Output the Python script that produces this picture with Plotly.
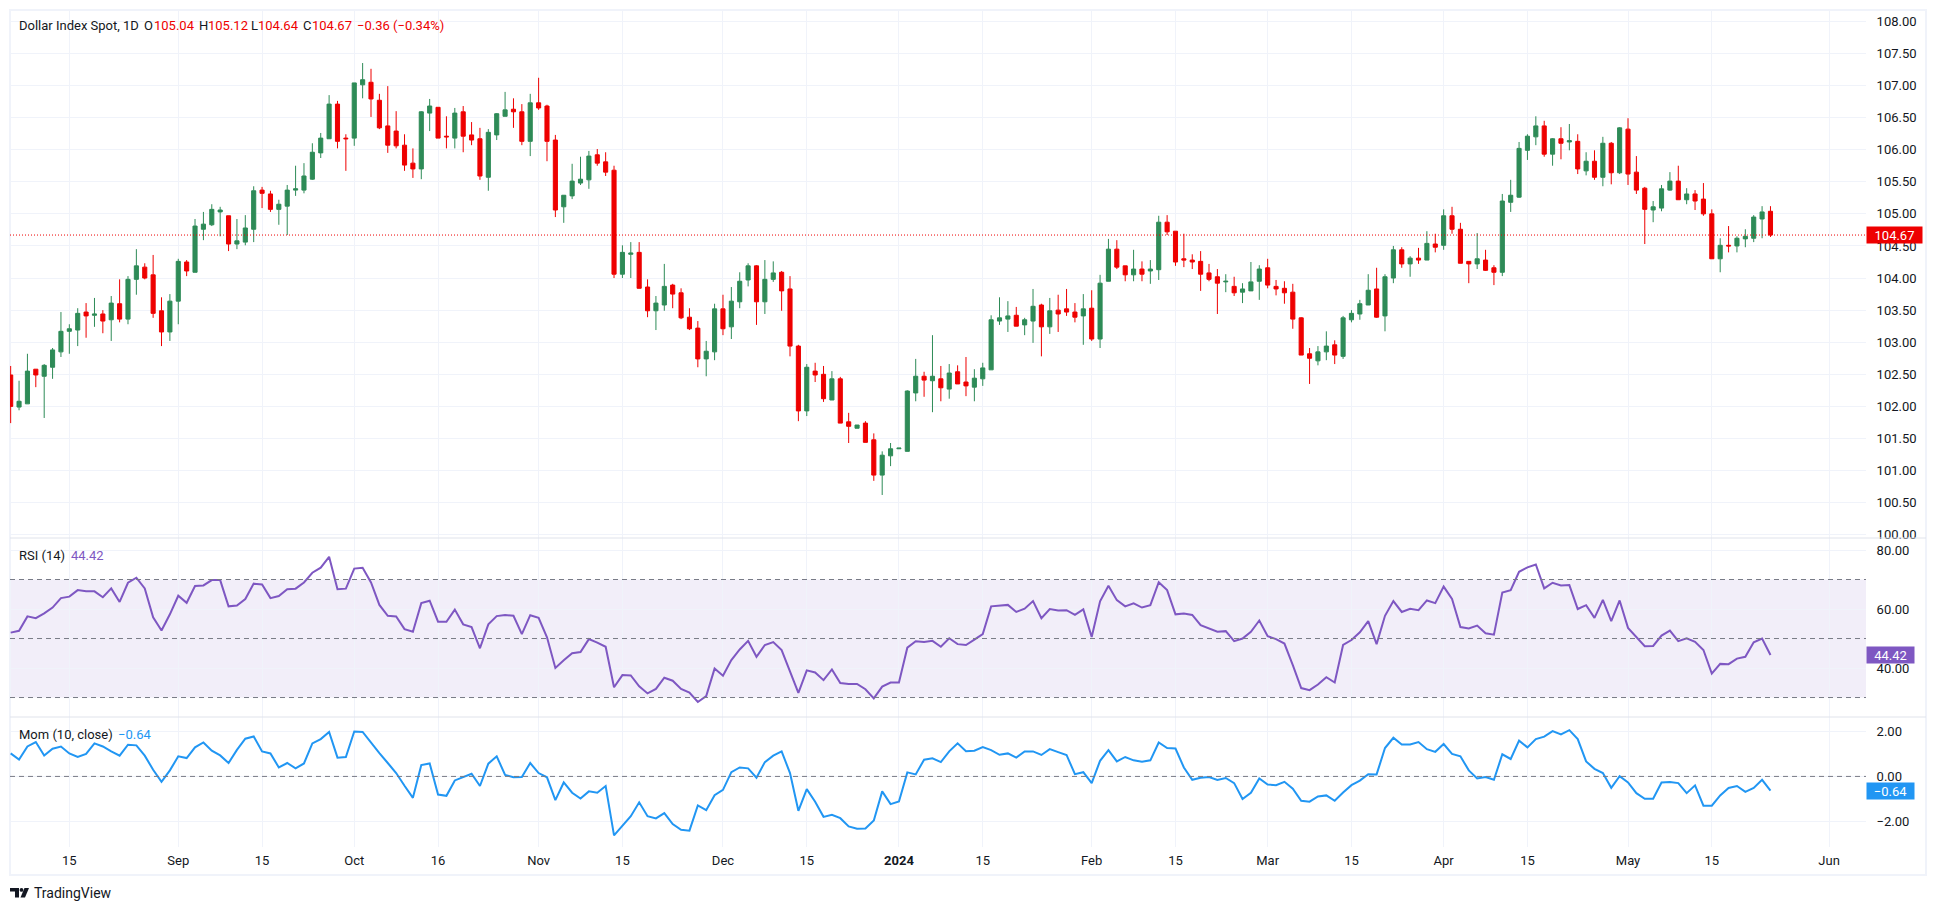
import numpy as np
import plotly.graph_objects as go
from plotly.subplots import make_subplots

FIRST_DAY = "2023-08-04"
N_BARS = 211

opens = [
    102.49, 101.99, 102.04, 102.58, 102.47, 102.61, 102.85, 103.17, 103.19, 103.47,
    103.42, 103.44, 103.35, 103.60, 103.36, 103.98, 104.17, 104.05, 103.49, 103.16,
    103.64, 104.25, 104.09, 104.76, 104.83, 105.03, 104.97, 104.53, 104.56, 104.76,
    105.37, 105.31, 105.07, 105.12, 105.37, 105.37, 105.54, 105.95, 106.17, 106.71,
    106.18, 106.18, 107.01, 107.05, 106.77, 106.37, 106.29, 106.07, 105.79, 105.70,
    106.57, 106.66, 106.21, 106.18, 106.59, 106.23, 106.17, 105.57, 106.23, 106.52,
    106.63, 106.59, 106.13, 106.73, 106.68, 106.15, 105.11, 105.28, 105.48, 105.53,
    105.92, 105.81, 105.68, 104.06, 104.37, 104.40, 103.86, 103.49, 103.58, 103.89,
    103.77, 103.39, 103.22, 102.74, 102.85, 103.52, 103.24, 103.63, 103.97, 104.19,
    103.63, 103.98, 104.09, 103.83, 102.94, 101.93, 102.55, 102.50, 102.10, 102.43,
    101.76, 101.66, 101.74, 101.48, 100.93, 101.23, 101.34, 101.30, 102.21, 102.47,
    102.40, 102.43, 102.27, 102.54, 102.38, 102.30, 102.43, 102.57, 103.33, 103.36,
    103.42, 103.27, 103.33, 103.58, 103.24, 103.50, 103.52, 103.47, 103.41, 103.53,
    103.05, 103.95, 104.45, 104.19, 104.05, 104.14, 104.11, 104.13, 104.87, 104.73,
    104.30, 104.28, 104.26, 104.08, 104.02, 103.94, 103.87, 103.78, 103.80, 103.95,
    104.16, 103.87, 103.84, 103.78, 103.38, 102.82, 102.71, 102.85, 102.96, 102.78,
    103.35, 103.44, 103.58, 103.83, 103.41, 104.00, 104.44, 104.22, 104.31, 104.28,
    104.53, 104.51, 104.97, 104.76, 104.26, 104.22, 104.28, 104.16, 104.09, 105.18,
    105.26, 105.99, 106.20, 106.37, 105.93, 106.17, 106.12, 106.13, 105.67, 105.82,
    105.57, 106.10, 105.64, 106.32, 105.65, 105.40, 105.06, 105.09, 105.37, 105.51,
    105.22, 105.31, 105.23, 105.00, 104.30, 104.51, 104.50, 104.61, 104.62, 104.92, 105.04,
]
highs = [
    102.63, 102.40, 102.82, 102.58, 102.66, 102.91, 103.47, 103.28, 103.53, 103.61,
    103.69, 103.50, 103.72, 103.98, 104.03, 104.45, 104.23, 104.36, 103.70, 103.75,
    104.30, 104.28, 104.92, 105.03, 105.15, 105.11, 104.97, 104.92, 104.98, 105.43,
    105.42, 105.36, 105.22, 105.45, 105.75, 105.79, 106.10, 106.26, 106.85, 106.76,
    106.24, 107.04, 107.35, 107.26, 106.87, 106.99, 106.60, 106.24, 106.02, 106.60,
    106.79, 106.66, 106.52, 106.65, 106.68, 106.43, 106.34, 106.32, 106.57, 106.90,
    106.80, 106.71, 106.87, 107.12, 106.70, 106.23, 105.29, 105.78, 105.89, 105.98,
    106.01, 105.96, 105.75, 104.51, 104.56, 104.56, 103.98, 103.72, 104.22, 103.91,
    103.84, 103.53, 103.33, 103.02, 103.60, 103.74, 103.86, 104.09, 104.23, 104.20,
    104.28, 104.26, 104.11, 104.03, 102.96, 102.66, 102.68, 102.63, 102.55, 102.46,
    101.90, 101.71, 101.77, 101.58, 101.30, 101.43, 101.35, 102.25, 102.74, 102.54,
    103.11, 102.63, 102.66, 102.64, 102.77, 102.58, 102.68, 103.42, 103.70, 103.64,
    103.55, 103.38, 103.83, 103.60, 103.69, 103.74, 103.83, 103.61, 103.75, 103.81,
    104.05, 104.61, 104.59, 104.19, 104.44, 104.26, 104.28, 104.97, 104.98, 104.73,
    104.69, 104.37, 104.42, 104.22, 104.14, 104.06, 104.02, 103.92, 104.25, 104.20,
    104.30, 103.97, 103.95, 103.91, 103.39, 102.91, 102.94, 103.17, 103.03, 103.41,
    103.50, 103.66, 104.06, 104.16, 104.06, 104.50, 104.48, 104.34, 104.47, 104.73,
    104.69, 105.07, 105.11, 104.86, 104.26, 104.70, 104.44, 104.20, 105.31, 105.53,
    106.12, 106.24, 106.52, 106.45, 106.18, 106.35, 106.40, 106.24, 105.96, 105.99,
    106.20, 106.12, 106.35, 106.49, 105.90, 105.42, 105.20, 105.45, 105.65, 105.75,
    105.40, 105.37, 105.48, 105.07, 104.62, 104.81, 104.65, 104.76, 104.98, 105.12, 105.12,
]
lows = [
    101.74, 101.94, 102.04, 102.30, 101.82, 102.43, 102.77, 102.82, 102.94, 103.07,
    103.24, 103.14, 103.02, 103.31, 103.28, 103.74, 103.98, 103.38, 102.94, 103.02,
    103.28, 104.03, 104.09, 104.59, 104.81, 104.65, 104.42, 104.45, 104.51, 104.56,
    105.09, 105.03, 104.83, 104.67, 105.28, 105.32, 105.53, 105.87, 106.17, 106.02,
    105.67, 106.06, 106.80, 106.51, 106.32, 105.95, 106.02, 105.67, 105.56, 105.54,
    106.29, 106.18, 106.02, 106.02, 105.96, 106.07, 105.53, 105.36, 106.15, 106.52,
    106.34, 106.07, 105.90, 106.62, 105.82, 104.95, 104.86, 105.23, 105.45, 105.39,
    105.75, 105.59, 104.00, 104.00, 104.00, 103.84, 103.39, 103.19, 103.49, 103.53,
    103.36, 103.19, 102.61, 102.47, 102.72, 103.11, 103.05, 103.53, 103.87, 103.27,
    103.44, 103.94, 103.49, 102.78, 101.77, 101.85, 102.38, 102.07, 102.10, 101.74,
    101.43, 101.66, 101.44, 100.84, 100.62, 101.07, 101.34, 101.30, 102.08, 102.15,
    101.91, 102.08, 102.12, 102.35, 102.16, 102.08, 102.32, 102.57, 103.27, 103.16,
    103.25, 103.11, 102.99, 102.78, 103.13, 103.16, 103.41, 103.31, 102.96, 103.02,
    102.91, 103.95, 104.14, 103.95, 103.95, 103.95, 103.91, 103.97, 104.67, 104.19,
    104.17, 104.14, 103.80, 103.95, 103.44, 103.78, 103.72, 103.61, 103.80, 103.66,
    103.84, 103.73, 103.60, 103.21, 102.80, 102.35, 102.64, 102.72, 102.66, 102.74,
    103.31, 103.35, 103.58, 103.38, 103.17, 103.92, 104.16, 104.02, 104.22, 104.28,
    104.40, 104.44, 104.69, 104.23, 103.92, 104.14, 104.11, 103.89, 104.03, 105.03,
    105.25, 105.84, 106.07, 105.89, 105.75, 105.85, 105.99, 105.62, 105.60, 105.53,
    105.43, 105.46, 105.62, 105.45, 105.31, 104.53, 104.87, 105.04, 105.36, 105.22,
    105.15, 105.06, 104.97, 104.30, 104.09, 104.40, 104.40, 104.48, 104.56, 104.62, 104.64,
]
closes = [
    102.00, 102.08, 102.55, 102.49, 102.64, 102.88, 103.17, 103.21, 103.45, 103.41,
    103.44, 103.33, 103.61, 103.36, 103.98, 104.19, 104.00, 103.45, 103.16, 103.64,
    104.26, 104.11, 104.81, 104.84, 105.07, 105.06, 104.53, 104.58, 104.78, 105.36,
    105.32, 105.07, 105.15, 105.37, 105.39, 105.59, 105.96, 106.18, 106.71, 106.13,
    106.17, 107.04, 107.09, 106.79, 106.34, 106.07, 106.06, 105.76, 105.70, 106.59,
    106.68, 106.18, 106.20, 106.57, 106.21, 106.15, 105.59, 106.27, 106.56, 106.62,
    106.59, 106.13, 106.73, 106.65, 106.13, 105.06, 105.29, 105.51, 105.54, 105.90,
    105.79, 105.65, 104.06, 104.40, 104.39, 103.84, 103.49, 103.61, 103.87, 103.75,
    103.38, 103.21, 102.74, 102.86, 103.52, 103.21, 103.64, 103.95, 104.19, 103.63,
    103.98, 104.08, 103.80, 102.94, 101.93, 102.61, 102.49, 102.12, 102.43, 101.74,
    101.69, 101.71, 101.44, 100.93, 101.24, 101.34, 101.35, 102.24, 102.47, 102.41,
    102.47, 102.29, 102.52, 102.35, 102.32, 102.44, 102.60, 103.35, 103.38, 103.41,
    103.25, 103.35, 103.56, 103.24, 103.49, 103.44, 103.47, 103.39, 103.52, 103.05,
    103.92, 104.45, 104.17, 104.05, 104.14, 104.06, 104.14, 104.87, 104.72, 104.25,
    104.28, 104.25, 104.06, 103.98, 103.92, 103.95, 103.77, 103.83, 103.94, 104.14,
    103.89, 103.83, 103.77, 103.36, 102.80, 102.75, 102.85, 102.94, 102.80, 103.38,
    103.45, 103.60, 103.81, 103.39, 104.02, 104.44, 104.22, 104.31, 104.28, 104.54,
    104.48, 104.97, 104.76, 104.23, 104.22, 104.30, 104.12, 104.09, 105.20, 105.29,
    106.02, 106.21, 106.37, 105.93, 106.17, 106.10, 106.14, 105.70, 105.82, 105.57,
    106.10, 105.64, 106.34, 105.62, 105.37, 105.07, 105.11, 105.39, 105.51, 105.22,
    105.31, 105.20, 105.00, 104.30, 104.51, 104.50, 104.62, 104.65, 104.95, 105.03, 104.67,
]
rsi = [
    52.0, 52.6, 57.5, 56.9, 58.5, 60.5, 63.7, 64.2, 66.4, 66.0,
    66.0, 64.0, 67.0, 62.4, 68.9, 70.6, 67.0, 57.2, 52.7, 58.2,
    64.5, 62.1, 67.8, 68.0, 69.8, 69.8, 60.9, 61.2, 63.4, 68.6,
    68.3, 63.7, 64.4, 66.7, 66.9, 69.0, 72.3, 74.0, 77.7, 66.7,
    66.9, 73.7, 74.0, 69.0, 61.4, 57.7, 57.5, 53.2, 52.3, 62.0,
    62.8, 55.7, 55.7, 59.8, 54.8, 53.9, 46.7, 54.8, 57.6, 58.0,
    57.7, 51.5, 57.9, 57.0, 50.4, 40.0, 42.6, 45.0, 45.4, 49.8,
    48.6, 47.2, 33.5, 37.6, 37.5, 33.8, 31.4, 32.9, 36.7, 35.7,
    32.9, 31.7, 28.5, 30.5, 39.8, 37.4, 42.7, 46.3, 49.2, 43.8,
    47.8, 48.8, 46.1, 38.7, 31.6, 39.2, 38.5, 35.9, 39.5, 34.9,
    34.6, 34.6, 32.8, 29.7, 33.7, 35.1, 35.1, 46.9, 49.1, 48.8,
    49.2, 47.2, 50.1, 48.1, 47.8, 49.6, 51.5, 60.9, 61.2, 61.4,
    59.0, 60.1, 62.7, 56.9, 60.0, 59.5, 59.6, 58.0, 59.9, 50.5,
    62.6, 67.9, 63.0, 60.9, 61.9, 60.5, 61.3, 69.1, 66.4, 58.2,
    58.5, 58.0, 54.5, 53.4, 52.3, 52.5, 49.1, 50.0, 52.3, 56.1,
    50.8, 49.8, 48.3, 41.0, 33.2, 32.5, 34.4, 36.9, 35.1, 47.8,
    49.5, 52.1, 55.9, 48.1, 57.7, 62.7, 59.0, 60.1, 59.6, 62.9,
    62.0, 67.6, 63.4, 53.9, 53.4, 54.4, 51.8, 51.3, 65.6, 66.4,
    72.6, 74.1, 75.1, 67.0, 68.9, 68.0, 68.1, 60.0, 61.3, 57.0,
    63.1, 55.9, 62.9, 53.6, 50.6, 47.4, 47.5, 51.0, 52.7, 49.1,
    50.1, 48.9, 46.1, 38.1, 41.4, 41.3, 43.2, 43.8, 48.7, 50.0, 44.42,
]
momentum = [
    1.03, 0.75, 1.34, 1.54, 0.94, 1.24, 1.34, 1.03, 0.87, 1.01,
    1.48, 1.34, 1.12, 0.93, 1.42, 1.39, 0.93, 0.30, -0.24, 0.27,
    0.90, 0.82, 1.30, 1.52, 1.15, 0.94, 0.60, 1.19, 1.69, 1.79,
    1.12, 1.03, 0.40, 0.60, 0.36, 0.58, 1.48, 1.67, 1.99, 0.84,
    0.87, 2.01, 1.99, 1.49, 1.04, 0.60, 0.15, -0.42, -0.96, 0.51,
    0.58, -0.81, -0.87, -0.18, -0.04, 0.12, -0.43, 0.57, 0.90, 0.07,
    -0.04, -0.03, 0.60, 0.15, -0.04, -1.06, -0.27, -0.73, -0.99, -0.67,
    -0.73, -0.43, -2.64, -2.22, -1.78, -1.16, -1.78, -1.88, -1.64, -2.13,
    -2.39, -2.43, -1.30, -1.51, -0.84, -0.60, 0.19, 0.40, 0.36, -0.06,
    0.64, 0.93, 1.12, 0.15, -1.54, -0.57, -1.13, -1.81, -1.72, -1.87,
    -2.24, -2.34, -2.33, -1.97, -0.67, -1.24, -1.12, 0.18, 0.09, 0.75,
    0.81, 0.64, 1.12, 1.48, 1.13, 1.15, 1.31, 1.18, 0.97, 1.03,
    0.84, 1.12, 1.12, 0.96, 1.22, 1.09, 0.96, 0.10, 0.19, -0.30,
    0.70, 1.18, 0.67, 0.87, 0.72, 0.66, 0.72, 1.52, 1.27, 1.25,
    0.40, -0.15, -0.06, -0.03, -0.16, -0.07, -0.30, -1.01, -0.73, -0.09,
    -0.36, -0.39, -0.24, -0.55, -1.09, -1.13, -0.90, -0.85, -1.09, -0.72,
    -0.39, -0.19, 0.10, 0.09, 1.27, 1.73, 1.43, 1.43, 1.54, 1.22,
    1.10, 1.45, 1.01, 0.90, 0.27, -0.09, -0.03, -0.15, 0.99, 0.78,
    1.60, 1.30, 1.67, 1.78, 2.03, 1.88, 2.07, 1.67, 0.67, 0.34,
    0.15, -0.51, 0.01, -0.27, -0.75, -1.00, -1.00, -0.27, -0.25, -0.30,
    -0.75, -0.40, -1.31, -1.31, -0.85, -0.52, -0.43, -0.69, -0.52, -0.15, -0.64,
]

tick_dates = [
    "2023-08-15", "2023-09-01", "2023-09-15", "2023-10-02", "2023-10-16",
    "2023-11-01", "2023-11-15", "2023-12-01", "2023-12-15", "2024-01-01",
    "2024-01-15", "2024-02-01", "2024-02-15", "2024-03-01", "2024-03-15",
    "2024-04-01", "2024-04-15", "2024-05-01", "2024-05-15", "2024-06-04",
]
tick_labels = [
    "15", "Sep", "15", "Oct", "16", "Nov", "15", "Dec", "15", "<b>2024</b>",
    "15", "Feb", "15", "Mar", "15", "Apr", "15", "May", "15", "Jun",
]
price_ticks = [100 + 0.5 * i for i in range(17)]
rsi_ticks = [40, 60, 80]
rsi_levels = [70, 50, 30]
mom_ticks = [-2, 0, 2]

GREEN = "#2e8b57"
RED = "#ee0000"
PURPLE = "#7e57c2"
BLUE = "#2196f3"
DARK = "#131722"
GRID = "#f0f3fa"
BORDER = "#e0e3eb"
FONT = "Roboto"

# pane edges in page pixels
LEFT, RIGHT, TOP, BOTTOM = 10, 1866, 10, 847


def px_x(px):
    return (px - LEFT) / (RIGHT - LEFT)


def px_y(py):
    return (BOTTOM - py) / (BOTTOM - TOP)


x = list(range(N_BARS))
tick_x = [int(np.busday_count(FIRST_DAY, d)) for d in tick_dates]

fig = make_subplots(
    rows=3, cols=1, shared_xaxes=True, vertical_spacing=0,
    row_heights=[528, 179, 130],
)
fig.add_trace(
    go.Candlestick(
        x=x, open=opens, high=highs, low=lows, close=closes,
        increasing=dict(line=dict(color=GREEN, width=1), fillcolor=GREEN),
        decreasing=dict(line=dict(color=RED, width=1), fillcolor=RED),
        whiskerwidth=0, hoverinfo="skip",
    ),
    row=1, col=1,
)
fig.add_trace(
    go.Scatter(x=x, y=rsi, mode="lines", line=dict(color=PURPLE, width=2), hoverinfo="skip"),
    row=2, col=1,
)
fig.add_trace(
    go.Scatter(x=x, y=momentum, mode="lines", line=dict(color=BLUE, width=2), hoverinfo="skip"),
    row=3, col=1,
)

fig.update_xaxes(
    range=[-0.08, 221.4], tickvals=tick_x, ticktext=tick_labels,
    showgrid=True, gridcolor=GRID, gridwidth=1, zeroline=False, showline=False,
    ticks="outside", ticklen=1, tickcolor="rgba(0,0,0,0)",
    tickfont=dict(family=FONT, size=13, color=DARK), tickangle=0,
    rangeslider_visible=False,
)
fig.update_yaxes(
    side="right", showgrid=True, gridcolor=GRID, gridwidth=1, zeroline=False, showline=False,
    ticks="outside", ticklen=7, tickcolor="rgba(0,0,0,0)", tickformat=".2f",
    tickfont=dict(family=FONT, size=13, color=DARK),
)
fig.update_yaxes(range=[99.95, 108.176], tickvals=price_ticks, row=1, col=1)
fig.update_yaxes(range=[23.4, 84.07], tickvals=rsi_ticks, row=2, col=1)
fig.update_yaxes(range=[-3.16, 2.66], tickvals=mom_ticks, row=3, col=1)

# RSI band and level lines, momentum zero line, last price line
fig.add_shape(
    type="rect", xref="x2 domain", yref="y2", x0=0, x1=1, y0=rsi_levels[2], y1=rsi_levels[0],
    fillcolor="rgba(126,87,194,0.1)", line_width=0, layer="below",
)
for level in rsi_levels:
    fig.add_shape(
        type="line", xref="x2 domain", yref="y2", x0=0, x1=1, y0=level, y1=level,
        line=dict(color="#787b86", width=1, dash="5px,4px"),
    )
fig.add_shape(
    type="line", xref="x3 domain", yref="y3", x0=0, x1=1, y0=0, y1=0,
    line=dict(color="#787b86", width=1, dash="5px,4px"),
)
fig.add_shape(
    type="line", xref="x domain", yref="y", x0=0, x1=1, y0=closes[-1], y1=closes[-1],
    line=dict(color=RED, width=1, dash="1px,2px"),
)

# frame and pane separators
fig.add_shape(
    type="rect", xref="paper", yref="paper", x0=px_x(10), x1=px_x(1926), y0=px_y(875), y1=px_y(10),
    line=dict(color=GRID, width=2), layer="below",
)
for sep in [538, 717]:
    fig.add_shape(
        type="line", xref="paper", yref="paper", x0=px_x(10), x1=px_x(1926), y0=px_y(sep), y1=px_y(sep),
        line=dict(color=BORDER, width=1),
    )

# TradingView mark
logo_paths = [
    [(10, 888), (19, 888), (19, 897.5), (15, 897.5), (15, 891.5), (10, 891.5)],
    [(24.5, 888), (29, 888), (25, 897.5), (20.5, 897.5)],
]
for pts in logo_paths:
    path = "M " + " L ".join(f"{px_x(a):.5f},{px_y(b):.5f}" for a, b in pts) + " Z"
    fig.add_shape(type="path", xref="paper", yref="paper", path=path, fillcolor=DARK, line_width=0)
fig.add_shape(
    type="circle", xref="paper", yref="paper",
    x0=px_x(19.6), x1=px_x(23.4), y0=px_y(891.8), y1=px_y(888),
    fillcolor=DARK, line_width=0,
)


def label(text, px, py, color=DARK, size=13):
    fig.add_annotation(
        xref="paper", yref="paper", x=px_x(px), y=px_y(py), text=text,
        showarrow=False, xanchor="left", yanchor="middle", align="left",
        font=dict(family=FONT, size=size, color=color),
    )


def value_tag(text, yref, value, color, width):
    fig.add_annotation(
        xref="paper", yref=yref, x=1, y=value, text=text, showarrow=False,
        xanchor="left", yanchor="middle", width=width, height=16, align="center",
        bgcolor=color, borderpad=0, font=dict(family=FONT, size=13, color="white"),
    )


last_change = closes[-1] - closes[-2]
header = [
    ("Dollar Index Spot, 1D", 17, DARK),
    ("O", 142, DARK), (f"{opens[-1]:.2f}", 152, RED),
    ("H", 197, DARK), (f"{highs[-1]:.2f}", 206, RED),
    ("L", 249, DARK), (f"{lows[-1]:.2f}", 256, RED),
    ("C", 301, DARK), (f"{closes[-1]:.2f}", 310, RED),
    (f"\u2212{abs(last_change):.2f} (\u22120.34%)", 355, RED),
]
for text, px, color in header:
    label(text, px, 26, color)

label("RSI (14)", 17, 555)
label(f"{rsi[-1]:.2f}", 69, 555, PURPLE)
label("Mom (10, close)", 17, 734)
label(f"\u2212{abs(momentum[-1]):.2f}", 116, 734, BLUE)
label("TradingView", 32, 893, DARK, 14)

value_tag(f"{closes[-1]:.2f}", "y", closes[-1], RED, 55)
value_tag(f"{rsi[-1]:.2f}", "y2", rsi[-1], PURPLE, 47)
value_tag(f"\u2212{abs(momentum[-1]):.2f}", "y3", momentum[-1], BLUE, 47)

fig.update_layout(
    width=1936, height=910,
    margin=dict(l=LEFT, r=1936 - RIGHT, t=TOP, b=910 - BOTTOM),
    paper_bgcolor="white", plot_bgcolor="white",
    showlegend=False, hovermode=False,
    font=dict(family=FONT, color=DARK),
)

fig.write_html(
    "out.html",
    config={"displayModeBar": False},
    post_script="document.body.style.margin='0';document.body.style.overflow='hidden';",
)
